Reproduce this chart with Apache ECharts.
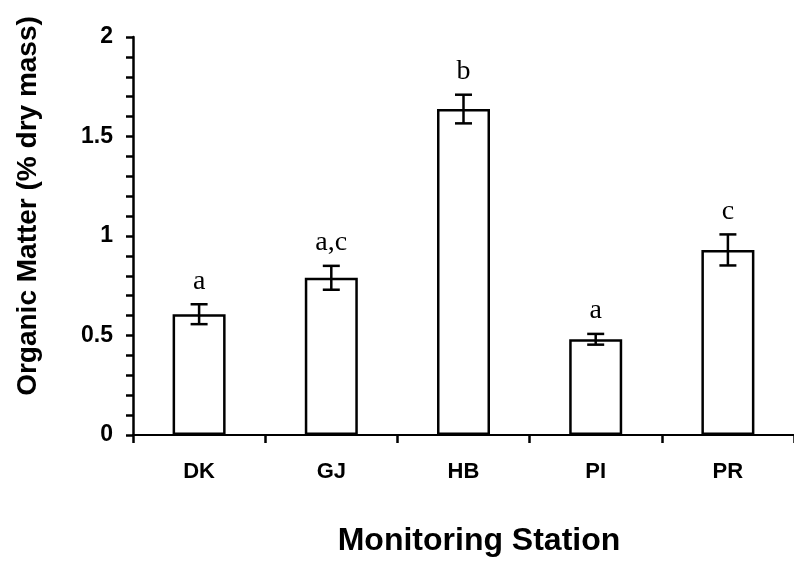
<!DOCTYPE html>
<html lang="en">
<head>
  <meta charset="UTF-8">
  <script src="https://cdn.jsdelivr.net/npm/echarts@6/dist/echarts.min.js"></script>
  <style>
    body { margin: 0; background: #ffffff; }
    #main { width: 794px; height: 563px; }
  </style>
</head>
<body>
  <div id="main"></div>
  <script>
    // data
    var stations = ['DK', 'GJ', 'HB', 'PI', 'PR'];
    var means = [0.607, 0.79, 1.638, 0.481, 0.93];
    var errors = [0.05, 0.06, 0.072, 0.027, 0.078];
    var letters = ['a', 'a,c', 'b', 'a', 'c'];

    var sans = '"Liberation Sans", Arial, sans-serif';
    var serif = '"Liberation Serif", "Times New Roman", serif';

    var errData = stations.map(function (s, i) {
      return [i, means[i], errors[i]];
    });

    var chart = echarts.init(document.getElementById('main'));

    chart.setOption({
      animation: false,
      grid: { left: 133, top: 37, width: 663, bottom: 128 },
      xAxis: {
        type: 'category',
        data: stations,
        axisLine: { lineStyle: { color: '#000', width: 2 } },
        axisTick: { show: true, length: 8, lineStyle: { color: '#000', width: 2.5 } },
        axisLabel: { color: '#000', fontFamily: sans, fontWeight: 'bold', fontSize: 22, margin: 26 }
      },
      yAxis: {
        type: 'value',
        min: 0,
        max: 2,
        interval: 0.5,
        splitLine: { show: false },
        axisLine: { show: true, lineStyle: { color: '#000', width: 2.5 } },
        axisTick: { show: true, length: 7, lineStyle: { color: '#000', width: 2.5 } },
        minorTick: { show: true, splitNumber: 5, length: 7, lineStyle: { color: '#000', width: 2.5 } },
        axisLabel: { color: '#000', fontFamily: sans, fontWeight: 'bold', fontSize: 23, margin: 20 }
      },
      graphic: [
        {
          type: 'text', x: 28, y: 206, rotation: Math.PI / 2,
          style: { text: 'Organic Matter (% dry mass)', font: 'bold 28px ' + sans, fill: '#000', align: 'center', verticalAlign: 'middle' }
        },
        {
          type: 'text', x: 479, y: 541,
          style: { text: 'Monitoring Station', font: 'bold 32px ' + sans, fill: '#000', align: 'center', verticalAlign: 'middle' }
        }
      ],
      series: [
        {
          type: 'bar',
          data: means,
          barWidth: 53,
          itemStyle: { color: '#fff', borderColor: '#000', borderWidth: 2.5 },
          z: 1
        },
        {
          type: 'custom',
          data: errData,
          z: 3,
          renderItem: function (params, api) {
            var i = api.value(0);
            var m = api.value(1);
            var e = api.value(2);
            var top = api.coord([i, m + e]);
            var bot = api.coord([i, m - e]);
            var x = top[0];
            var cap = 8.5;
            var ls = { stroke: '#000', lineWidth: 2.5 };
            return {
              type: 'group',
              children: [
                { type: 'line', shape: { x1: x, y1: top[1], x2: x, y2: bot[1] }, style: ls },
                { type: 'line', shape: { x1: x - cap, y1: top[1], x2: x + cap, y2: top[1] }, style: ls },
                { type: 'line', shape: { x1: x - cap, y1: bot[1], x2: x + cap, y2: bot[1] }, style: ls },
                {
                  type: 'text',
                  style: {
                    text: letters[params.dataIndex], x: x, y: top[1] - 9,
                    font: '28px ' + serif, fill: '#000', align: 'center', verticalAlign: 'bottom'
                  }
                }
              ]
            };
          }
        }
      ]
    });
  </script>
</body>
</html>
